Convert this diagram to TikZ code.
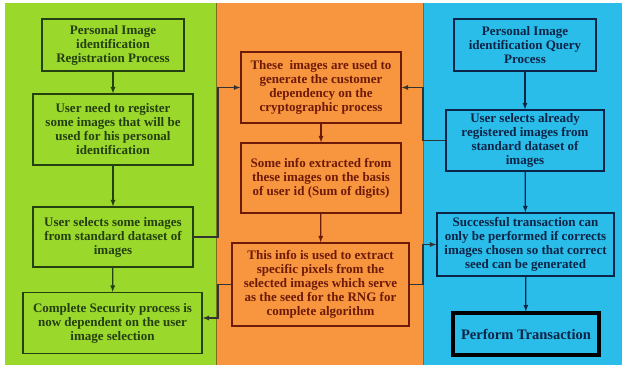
\documentclass[tikz,border=0pt]{standalone}
\usepackage{fontspec}
\setmainfont{Liberation Serif}
\usepackage{xcolor}
\usetikzlibrary{positioning}
\tikzset{>=latex}

\definecolor{greenbg}{HTML}{9BD82C}
\definecolor{orangebg}{HTML}{F8963F}
\definecolor{bluebg}{HTML}{2ABDEA}
\definecolor{greentxt}{HTML}{243F10}
\definecolor{orangetxt}{HTML}{6E1A08}
\definecolor{bluetxt}{HTML}{0C2446}

\begin{document}
\begin{tikzpicture}[x=1pt,y=-1pt]
    % Define node styles
    \tikzstyle{procbox} = [rectangle, draw, line width=1.3pt, align=center,
        inner sep=1pt, font=\bfseries\fontsize{13}{14}\selectfont]
    \tikzstyle{gbox} = [procbox, fill=greenbg, draw=greentxt, text=greentxt]
    \tikzstyle{obox} = [procbox, fill=orangebg, draw=orangetxt, text=orangetxt]
    \tikzstyle{bbox} = [procbox, fill=bluebg, draw=bluetxt, text=bluetxt]
    \tikzstyle{flow} = [->, line width=1.2pt]

    % Background panels
    \useasboundingbox (0,0) rectangle (622,365);
    \fill[white] (0,0) rectangle (622,365);
    \fill[greenbg] (5,3) rectangle (216,365);
    \fill[orangebg] (216,3) rectangle (423,365);
    \fill[bluebg] (423,3) rectangle (622,365);
    \draw[olive!80!black, line width=0.6pt] (216,3) -- (216,365);
    \draw[orange!70!black, line width=0.6pt] (423,3) -- (423,365);

    % Registration column
    \node[gbox, minimum width=142pt, minimum height=52pt] (g1) at (113,45)
        {Personal Image\\identification\\Registration Process};
    \node[gbox, minimum width=160pt, minimum height=71pt] (g2) at (113,129.5)
        {User need to register\\some images that will be\\used for his personal\\identification};
    \node[gbox, minimum width=160pt, minimum height=60pt] (g3) at (113,237)
        {User selects some images\\from standard dataset of\\images};
    \node[gbox, minimum width=179pt, minimum height=61pt] (g4) at (112.5,323)
        {Complete Security process is\\now dependent on the user\\image selection};

    % Cryptographic column
    \node[obox, minimum width=160pt, minimum height=71pt] (o1) at (321,87.5)
        {These\ \ images are used to\\generate the customer\\dependency on the\\cryptographic process};
    \node[obox, minimum width=160pt, minimum height=70pt] (o2) at (321,178)
        {Some info extracted from\\these images on the basis\\of user id (Sum of digits)};
    \node[obox, minimum width=177pt, minimum height=83pt] (o3) at (320.5,284.5)
        {This info is used to extract\\specific pixels from the\\selected images which serve\\as the seed for the RNG for\\complete algorithm};

    % Query column
    \node[bbox, minimum width=142pt, minimum height=52pt] (b1) at (525,45)
        {Personal Image\\identification Query\\Process};
    \node[bbox, minimum width=158pt, minimum height=61pt] (b2) at (525,140.5)
        {User selects already\\registered images from\\standard dataset of\\images};
    \node[bbox, minimum width=177pt, minimum height=63pt] (b3) at (525.5,244.5)
        {Successful transaction can\\only be performed if corrects\\images chosen so that correct\\seed can be generated};
    \node[bbox, line width=3.2pt, draw=black, minimum width=146pt, minimum height=42pt] (b4) at (526,334)
        {\fontsize{14.5}{16}\selectfont Perform Transaction};

    % Junction lines on the panel borders
    \coordinate (jl) at (218,0);
    \coordinate (jr) at (423,0);

    % Arrows inside the columns
    \draw[flow, greentxt] (g1) -- (g2);
    \draw[flow, greentxt] (g2) -- (g3);
    \draw[flow, greentxt] (g3) -- (g4);
    \draw[flow, orangetxt] (o1) -- (o2);
    \draw[flow, orangetxt] (o2) -- (o3);
    \draw[flow, bluetxt] (b1) -- (b2);
    \draw[flow, bluetxt] (b2) -- (b3);
    \draw[flow, bluetxt] (b3) -- (b4);

    % Arrows across the columns
    \draw[flow, black!80] (g3.east) -- (g3.east -| jl) |- (o1.west);
    \draw[flow, black!80] (o3.west) -- (o3.west -| jl) |- ([yshift=5pt]g4.east);
    \draw[flow, black!80] (b2.west) -- (b2.west -| jr) |- (o1.east);
    \draw[flow, black!80] (o3.east) -- (o3.east -| jr) |- (b3.west);
\end{tikzpicture}
\end{document}
